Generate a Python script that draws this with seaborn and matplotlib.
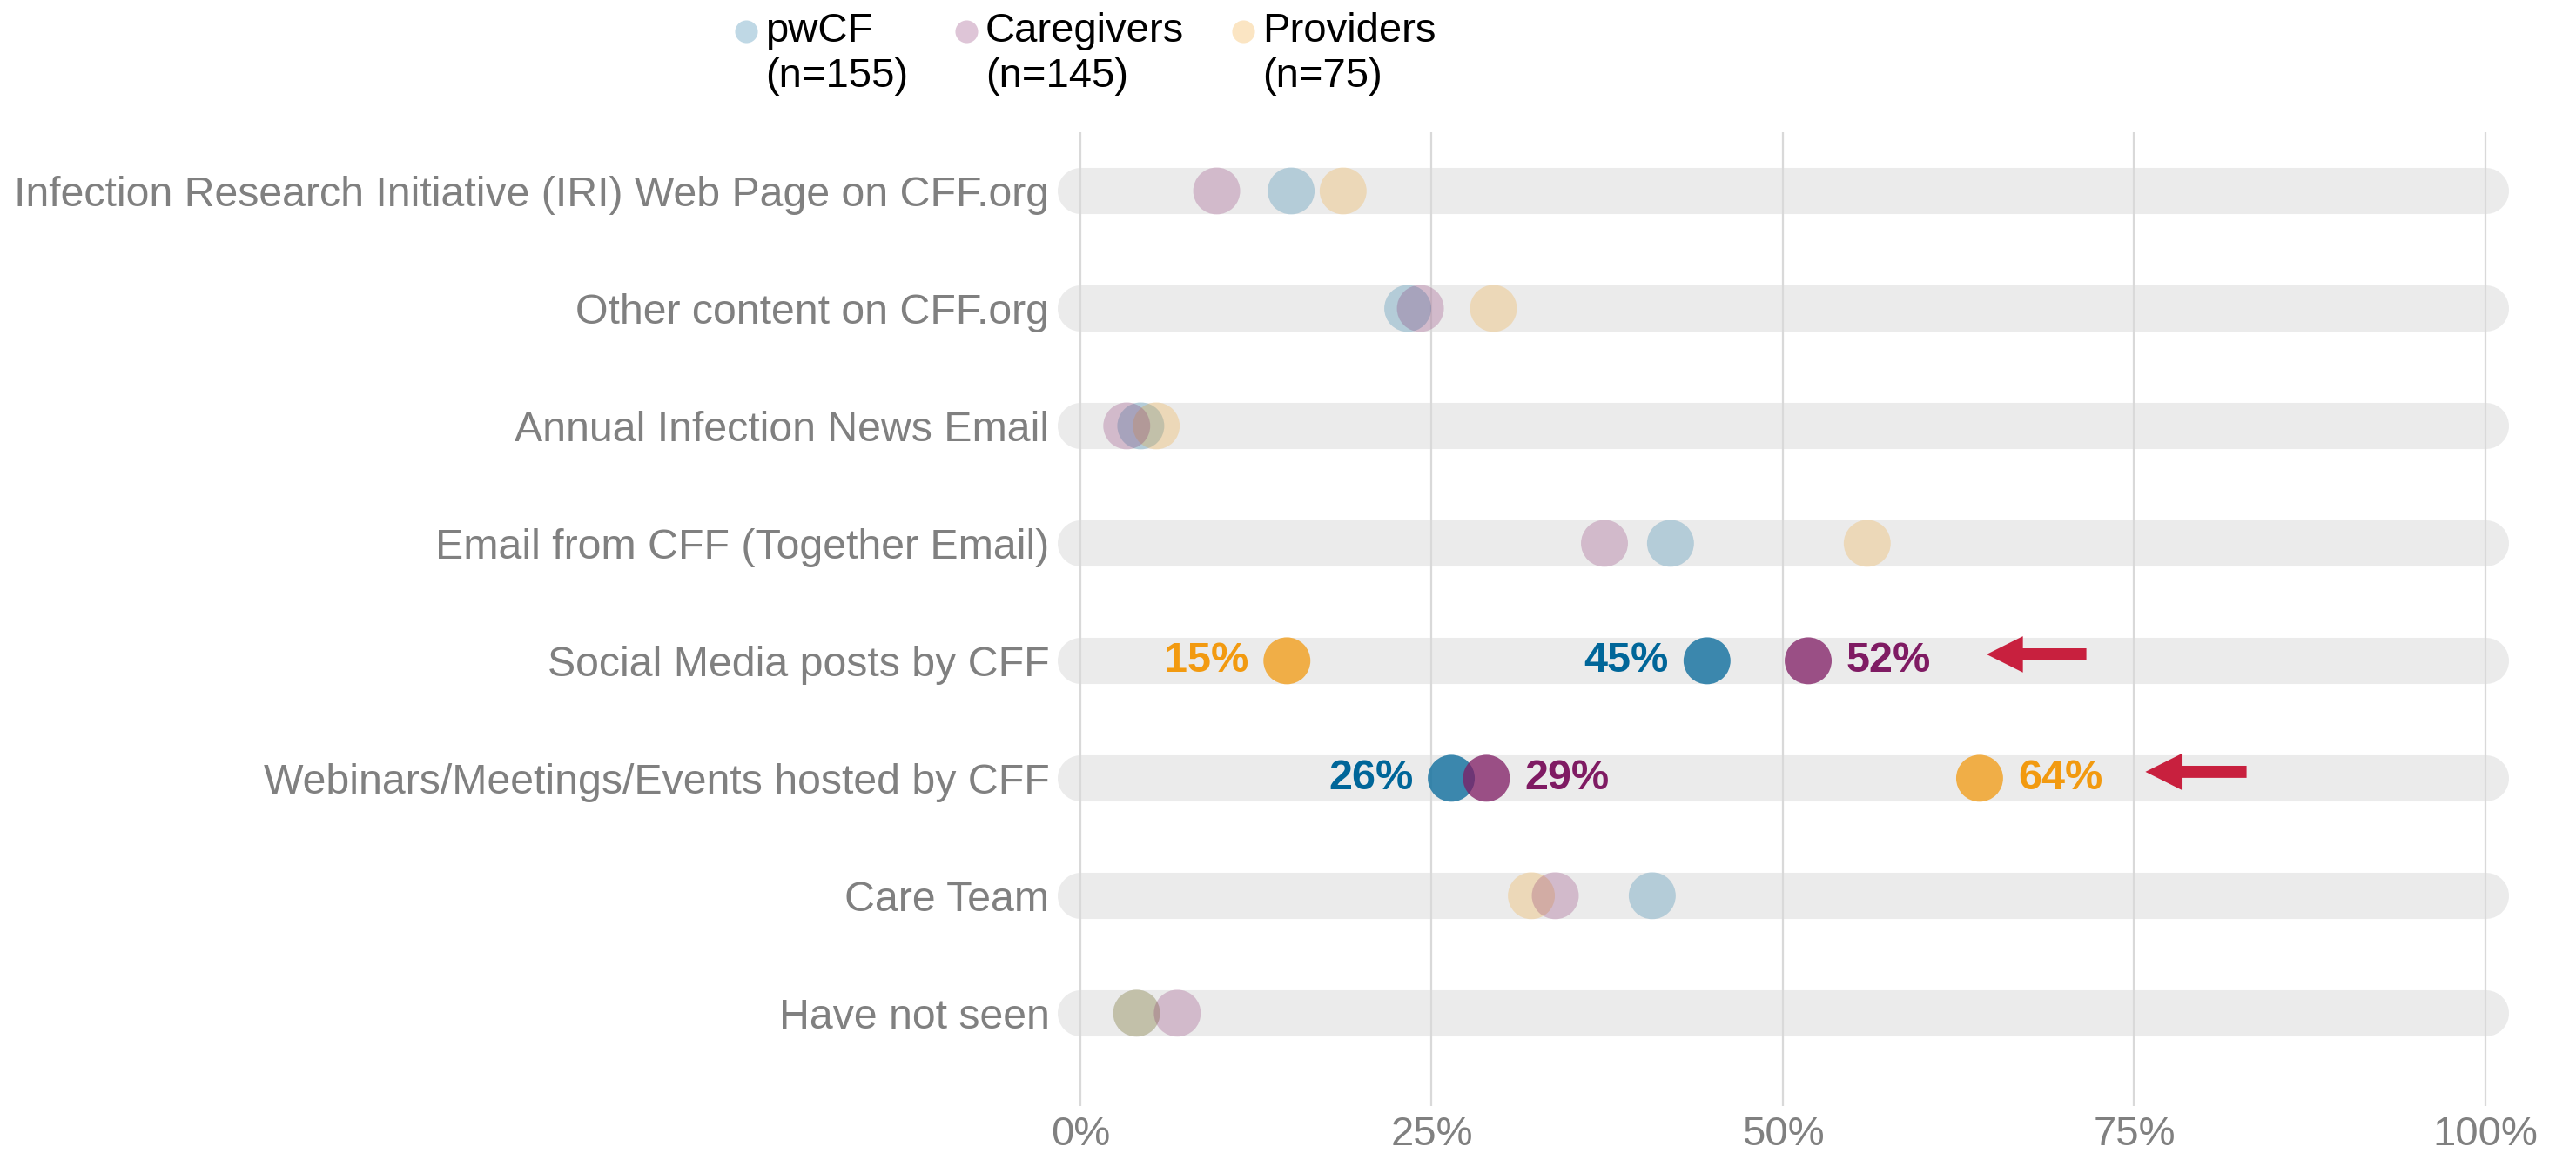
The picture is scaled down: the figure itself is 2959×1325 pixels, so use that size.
import pandas as pd
import matplotlib
matplotlib.use("Agg")
import matplotlib.pyplot as plt
from matplotlib.lines import Line2D
import seaborn as sns


sources = [
    "Infection Research Initiative (IRI) Web Page on CFF.org",
    "Other content on CFF.org",
    "Annual Infection News Email",
    "Email from CFF (Together Email)",
    "Social Media posts by CFF",
    "Webinars/Meetings/Events hosted by CFF",
    "Care Team",
    "Have not seen",
]
pwcf = [15.0, 23.3, 4.3, 42.0, 44.6, 26.4, 40.7, 4.0]
caregivers = [9.7, 24.2, 3.3, 37.3, 51.8, 28.9, 33.8, 6.9]
providers = [18.7, 29.4, 5.4, 56.0, 14.7, 64.0, 32.1, 4.0]

groups = ["pwCF", "Caregivers", "Providers"]
group_n = [155, 145, 75]
group_colors = ["#006699", "#7F1B63", "#F29A10"]
draw_order = ["pwCF", "Providers", "Caregivers"]

highlight_rows = ["Social Media posts by CFF", "Webinars/Meetings/Events hosted by CFF"]
# which side of the dot each highlighted value label sits on
label_side = {
    "Social Media posts by CFF": {"pwCF": "left", "Caregivers": "right", "Providers": "left"},
    "Webinars/Meetings/Events hosted by CFF": {"pwCF": "left", "Caregivers": "right", "Providers": "right"},
}
arrow_tip = [64.5, 75.8]
arrow_tail = [71.6, 83.0]

x_ticks = [0, 25, 50, 75, 100]
x_tick_labels = ["0%", "25%", "50%", "75%", "100%"]

values = {"pwCF": pwcf, "Caregivers": caregivers, "Providers": providers}
records = []
for g in draw_order:
    for i, (s, v) in enumerate(zip(sources, values[g])):
        records.append({"group": g, "source": s, "row": i, "value": v})
df = pd.DataFrame(records)
palette = dict(zip(groups, group_colors))

sns.set_style("white")
plt.rcParams["font.family"] = ["Liberation Sans", "DejaVu Sans"]

fig = plt.figure(figsize=(2959 / 200, 1325 / 200), dpi=200)
ax = fig.add_axes([0.4074, 0.0408, 0.5738, 0.8445])

# rounded background tracks
ax.hlines(range(len(sources)), 0, 100, color="#EBEBEB", linewidth=19.1,
          capstyle="round", zorder=1)

faded = df[~df["source"].isin(highlight_rows)]
strong = df[df["source"].isin(highlight_rows)]

sns.scatterplot(data=faded, x="value", y="row", hue="group", palette=palette,
                alpha=0.23, s=377, linewidth=0, legend=False, zorder=3, ax=ax)
sns.scatterplot(data=strong, x="value", y="row", hue="group", palette=palette,
                alpha=0.75, s=377, linewidth=0, legend=False, zorder=3, ax=ax)

for _, r in strong.iterrows():
    side = label_side[r["source"]][r["group"]]
    dx = -15.8 if side == "left" else 15.8
    ax.annotate(f"{r['value']:.0f}%", (r["value"], r["row"]),
                xytext=(dx, 0), textcoords="offset points",
                ha="right" if side == "left" else "left", va="center",
                fontsize=17.5, fontweight="bold", color=palette[r["group"]],
                zorder=4)

for s, tip, tail in zip(highlight_rows, arrow_tip, arrow_tail):
    row = sources.index(s) - 0.055
    ax.annotate("", xy=(tip, row), xytext=(tail, row),
                arrowprops=dict(arrowstyle="simple,head_length=1.5,head_width=1.5,tail_width=0.5",
                                mutation_scale=10, color="#C8203E", shrinkA=0, shrinkB=0,
                                linewidth=0))

ax.set_xlim(-2.2, 103)
ax.set_ylim(7.79, -0.5)
ax.set_xticks(x_ticks)
ax.set_xticklabels(x_tick_labels)
ax.set_yticks(range(len(sources)))
ax.set_yticklabels(sources)
ax.set_xlabel("")
ax.set_ylabel("")
ax.tick_params(axis="both", length=0, labelcolor="#808080")
ax.tick_params(axis="x", pad=4, labelsize=17)
ax.tick_params(axis="y", pad=0, labelsize=17.4)
ax.grid(axis="x", color="#D9D9D9", linewidth=0.8)
ax.grid(axis="y", visible=False)
ax.set_axisbelow(False)
for side in ax.spines.values():
    side.set_visible(False)

# legend drawn by hand so the marker lines up with the first text line
legend_x = [857, 1110, 1428]
for g, n, lx in zip(groups, group_n, legend_x):
    fig.add_artist(Line2D([lx / 2959], [1 - 36 / 1325], marker="o", markersize=9.4,
                          color=palette[g], alpha=0.25, markeredgewidth=0,
                          transform=fig.transFigure))
    fig.text((lx + 22) / 2959, 1 - 14 / 1325, f"{g}\n(n={n})", ha="left", va="top",
             fontsize=17, color="black", linespacing=1.25)

fig.savefig("out.png", dpi=200, facecolor="white")
